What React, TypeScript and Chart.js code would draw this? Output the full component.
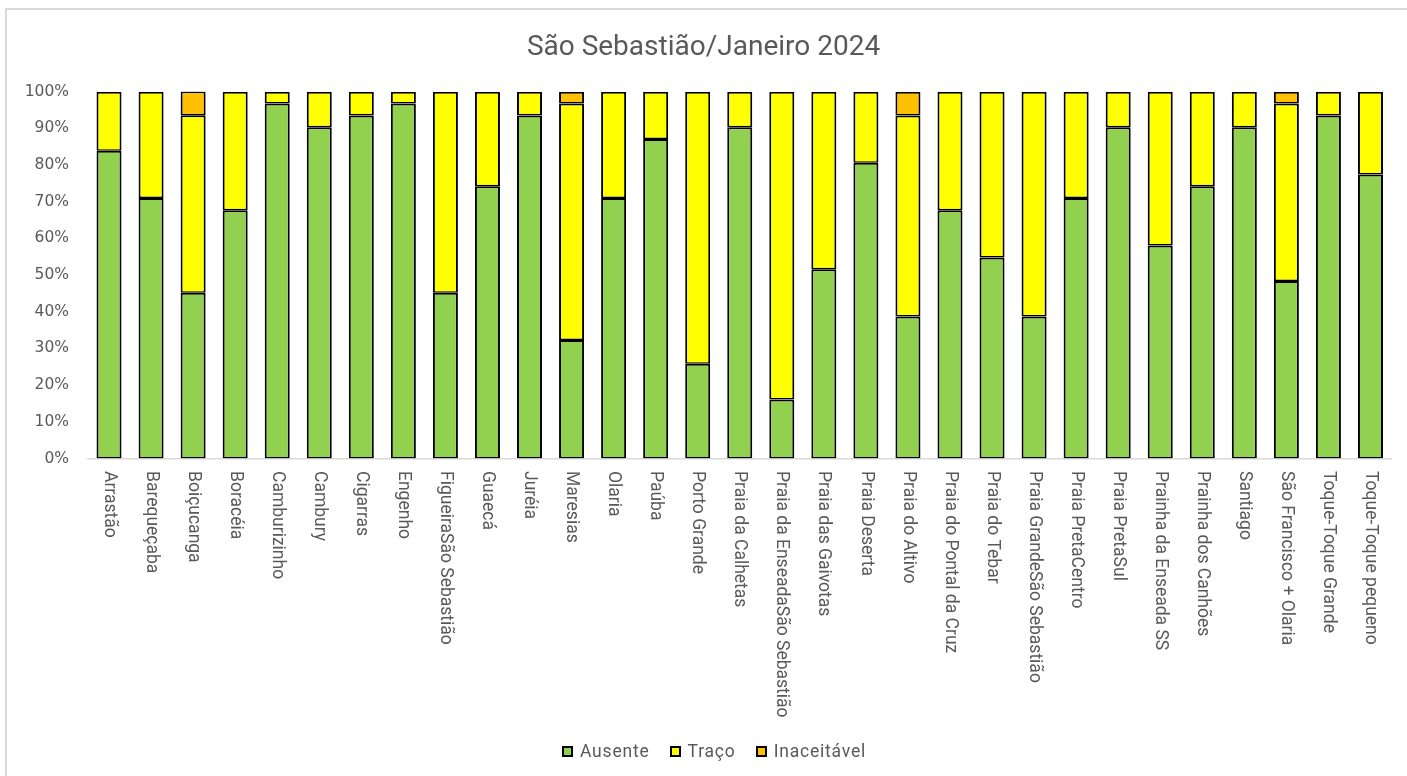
import React, { useEffect, useRef } from "react";
import { Chart, registerables } from "chart.js";

Chart.register(...registerables);

const TITLE = "São Sebastião/Janeiro 2024";

const CATEGORIES: string[] = [
  "Arrastão",
  "Barequeçaba",
  "Boiçucanga",
  "Boracéia",
  "Camburizinho",
  "Cambury",
  "Cigarras",
  "Engenho",
  "FigueiraSão Sebastião",
  "Guaecá",
  "Juréia",
  "Maresias",
  "Olaria",
  "Paúba",
  "Porto Grande",
  "Praia da Calhetas",
  "Praia da EnseadaSão Sebastião",
  "Praia das Gaivotas",
  "Praia Deserta",
  "Praia do Altivo",
  "Praia do Pontal da Cruz",
  "Praia do Tebar",
  "Praia GrandeSão Sebastião",
  "Praia PretaCentro",
  "Praia PretaSul",
  "Prainha da Enseada SS",
  "Prainha dos Canhões",
  "Santiago",
  "São Francisco + Olaria",
  "Toque-Toque Grande",
  "Toque-Toque pequeno",
];

const AUSENTE: number[] = [
  83.9, 71.0, 45.2, 67.7, 96.8, 90.3, 93.5, 96.8, 45.2, 74.2, 93.5, 32.3, 71.0, 87.1, 25.8, 90.3,
  16.1, 51.6, 80.6, 38.7, 67.7, 54.8, 38.7, 71.0, 90.3, 58.1, 74.2, 90.3, 48.4, 93.5, 77.4,
];

const TRACO: number[] = [
  16.1, 29.0, 48.4, 32.3, 3.2, 9.7, 6.5, 3.2, 54.8, 25.8, 6.5, 64.5, 29.0, 12.9, 74.2, 9.7,
  83.9, 48.4, 19.4, 54.8, 32.3, 45.2, 61.3, 29.0, 9.7, 41.9, 25.8, 9.7, 48.4, 6.5, 22.6,
];

const INACEITAVEL: number[] = [
  0, 0, 6.5, 0, 0, 0, 0, 0, 0, 0, 0, 3.2, 0, 0, 0, 0,
  0, 0, 0, 6.5, 0, 0, 0, 0, 0, 0, 0, 0, 3.2, 0, 0,
];

const SERIES_NAMES = ["Ausente", "Traço", "Inaceitável"];
const SERIES_COLORS = ["#92D050", "#FFFF00", "#FFC000"];

const TEXT_COLOR = "#595959";

const xLabelPlugin = {
  id: "rotatedCategoryLabels",
  afterDraw(chart: any) {
    const xs = chart.scales.x;
    const ctx = chart.ctx;
    ctx.save();
    ctx.font = "17.5px Roboto";
    ctx.fillStyle = TEXT_COLOR;
    ctx.textAlign = "left";
    ctx.textBaseline = "middle";
    CATEGORIES.forEach((label, i) => {
      const x = xs.getPixelForValue(i);
      ctx.save();
      ctx.translate(x, chart.chartArea.bottom + 12.5);
      ctx.rotate(Math.PI / 2);
      ctx.fillText(label, 0, 0);
      ctx.restore();
    });
    ctx.restore();
  },
};

export default function App() {
  const canvasRef = useRef<HTMLCanvasElement | null>(null);

  useEffect(() => {
    const canvas = canvasRef.current;
    if (!canvas) return;
    const seriesData = [AUSENTE, TRACO, INACEITAVEL];
    const chart = new Chart(canvas, {
      type: "bar",
      data: {
        labels: CATEGORIES,
        datasets: SERIES_NAMES.map((name, i) => ({
          label: name,
          data: seriesData[i],
          backgroundColor: SERIES_COLORS[i],
          borderColor: "#000000",
          borderWidth: { left: 2, right: 2, top: 2, bottom: 1.5 },
          borderSkipped: false,
          inflateAmount: 0,
          categoryPercentage: 1,
          barPercentage: 0.595,
        })),
      },
      options: {
        responsive: false,
        animation: false,
        devicePixelRatio: 1,
        layout: { padding: { left: 0, top: 91.7, right: 15.5, bottom: 317.5 } },
        plugins: {
          legend: { display: false },
          title: { display: false },
          tooltip: { enabled: false },
        },
        scales: {
          x: {
            stacked: true,
            grid: { display: false, drawTicks: false },
            border: { display: true, color: "#D9D9D9", width: 1.5 },
            ticks: { display: false },
            afterFit: (s: any) => {
              s.height = 0;
            },
          },
          y: {
            stacked: true,
            min: 0,
            max: 100,
            grid: { display: false, drawTicks: false },
            border: { display: false },
            ticks: {
              stepSize: 10,
              padding: 19,
              color: TEXT_COLOR,
              font: { family: "DejaVu Sans", size: 15.5 },
              callback: (v: any) => `${v}%`,
            },
            afterFit: (s: any) => {
              s.width = 88;
            },
          },
        },
      },
      plugins: [xLabelPlugin],
    });
    return () => chart.destroy();
  }, []);

  return (
    <div
      style={{
        position: "fixed",
        left: 0,
        top: 0,
        width: 1407,
        height: 776,
        background: "#ffffff",
        overflow: "hidden",
      }}
    >
      <div
        style={{
          position: "absolute",
          left: 5,
          top: 8,
          width: 1500,
          height: 900,
          border: "2px solid #D9D9D9",
        }}
      />
      <canvas
        ref={canvasRef}
        width={1407}
        height={776}
        style={{ position: "absolute", left: 0, top: 0, width: 1407, height: 776 }}
      />
      <div
        style={{
          position: "absolute",
          left: 0,
          width: 1407,
          top: 32.4,
          textAlign: "center",
          fontFamily: "Roboto",
          fontSize: 28,
          lineHeight: "28px",
          color: TEXT_COLOR,
        }}
      >
        {TITLE}
      </div>
      <div
        style={{
          position: "absolute",
          left: 562,
          top: 741,
          height: 20,
          display: "flex",
          alignItems: "center",
          gap: 20,
          fontFamily: "Roboto",
          fontSize: 17.5,
          lineHeight: "20px",
          letterSpacing: "0.8px",
          color: TEXT_COLOR,
          whiteSpace: "nowrap",
        }}
      >
        {SERIES_NAMES.map((name, i) => (
          <div key={name} style={{ display: "flex", alignItems: "center", gap: 7 }}>
            <span
              style={{
                display: "inline-block",
                width: 11,
                height: 11,
                boxSizing: "border-box",
                background: SERIES_COLORS[i],
                border: "2px solid #000",
              }}
            />
            <span>{name}</span>
          </div>
        ))}
      </div>
    </div>
  );
}
